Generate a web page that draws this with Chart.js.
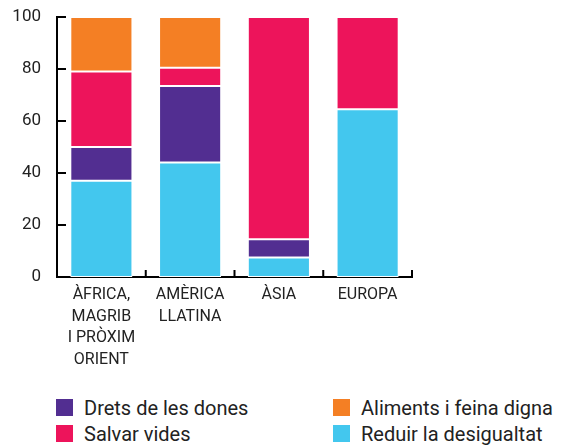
<!DOCTYPE html>
<html>
<head>
<meta charset="utf-8">
<script src="https://cdn.jsdelivr.net/npm/chart.js@4"></script>
<style>
    body { margin: 0; background: #fff; font-family: Roboto, sans-serif; }
    #wrap { position: relative; width: 576px; height: 445px; }
    #legend { position: absolute; left: 56px; top: 397px; display: grid; grid-template-columns: 277px auto; row-gap: 5px; }
    .item { display: flex; align-items: center; height: 21px; font-size: 20px; color: #222; }
    .box { width: 17px; height: 17px; margin-right: 11px; }
</style>
</head>
<body>
<div id="wrap">
    <canvas id="chart" width="576" height="385"></canvas>
    <div id="legend"></div>
</div>
<script>
const categories = [['ÀFRICA,', 'MAGRIB', 'I PRÒXIM', 'ORIENT'], ['AMÈRICA', 'LLATINA'], 'ÀSIA', 'EUROPA'];
const yTicks = [0, 20, 40, 60, 80, 100];

// valors per sèrie (de baix a dalt a la barra)
const reduir = [37, 44, 7.5, 64.5];
const drets = [13, 29.5, 7, null];
const salvar = [29, 7, 85.5, 35.5];
const aliments = [21, 19.5, null, null];

const series = [
    { label: 'Reduir la desigualtat', data: reduir, color: '#43c7ee' },
    { label: 'Drets de les dones', data: drets, color: '#522e91' },
    { label: 'Salvar vides', data: salvar, color: '#ed145b' },
    { label: 'Aliments i feina digna', data: aliments, color: '#f47f24' }
];
const legendOrder = ['Drets de les dones', 'Aliments i feina digna', 'Salvar vides', 'Reduir la desigualtat'];

// marques cap a dins dels eixos
const innerTicks = {
    id: 'innerTicks',
    afterDraw(chart) {
        const ctx = chart.ctx;
        const area = chart.chartArea;
        const x = chart.scales.x;
        const y = chart.scales.y;
        ctx.save();
        ctx.strokeStyle = '#000';
        ctx.lineWidth = 2;
        ctx.beginPath();
        for (let i = 0; i <= categories.length; i++) {
            const px = x.getPixelForValue(i - 0.5);
            ctx.moveTo(px, area.bottom);
            ctx.lineTo(px, area.bottom - 7);
        }
        y.ticks.forEach(t => {
            const py = y.getPixelForValue(t.value);
            ctx.moveTo(area.left, py);
            ctx.lineTo(area.left + 9, py);
        });
        ctx.stroke();
        ctx.restore();
    }
};

function buildLegend() {
    const legend = document.getElementById('legend');
    legendOrder.forEach(name => {
        const s = series.find(d => d.label === name);
        const item = document.createElement('div');
        item.className = 'item';
        item.innerHTML = `<span class="box" style="background:${s.color}"></span>${s.label}`;
        legend.appendChild(item);
    });
}

const ctx = document.getElementById('chart').getContext('2d');
new Chart(ctx, {
    type: 'bar',
    data: {
        labels: categories,
        datasets: series.map(s => ({
            label: s.label,
            data: s.data,
            backgroundColor: s.color,
            borderColor: '#fff',
            borderWidth: 1,
            borderSkipped: false,
            barPercentage: 0.7,
            categoryPercentage: 1
        }))
    },
    options: {
        responsive: false,
        animation: false,
        layout: { padding: { top: 17, right: 164, left: 12, bottom: 7 } },
        plugins: { legend: { display: false }, tooltip: { enabled: false } },
        scales: {
            x: {
                stacked: true,
                grid: { display: false, drawTicks: false },
                border: { color: '#000', width: 2 },
                ticks: {
                    color: '#222',
                    padding: 7,
                    maxRotation: 0,
                    font: { family: 'Roboto', size: 16, lineHeight: 1.36 }
                }
            },
            y: {
                stacked: true,
                min: 0,
                max: 100,
                grid: { display: false, drawTicks: true, tickLength: 16 },
                border: { color: '#000', width: 2 },
                afterBuildTicks: axis => { axis.ticks = yTicks.map(v => ({ value: v })); },
                afterFit: axis => { axis.width = 45; },
                ticks: {
                    color: '#222',
                    padding: 0,
                    font: { family: 'Roboto', size: 17 }
                }
            }
        }
    },
    plugins: [innerTicks]
});

buildLegend();
</script>
</body>
</html>
